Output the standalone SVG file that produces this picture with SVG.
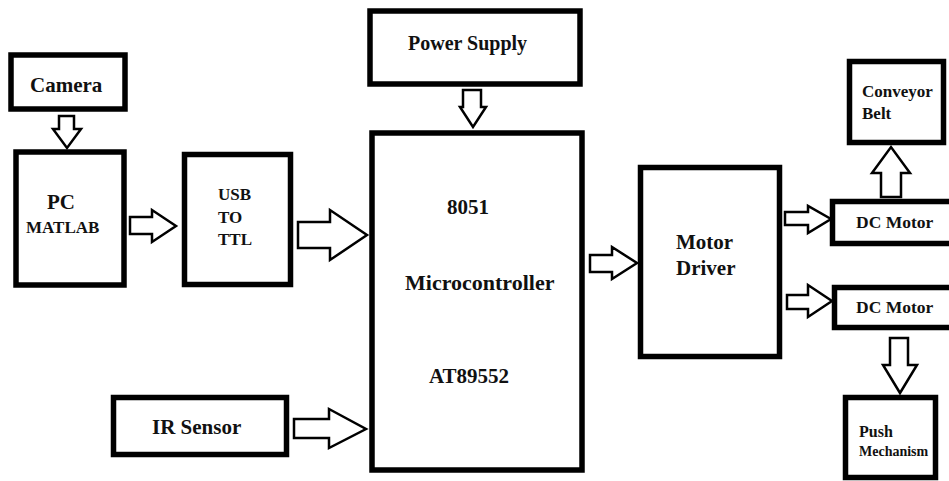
<svg xmlns="http://www.w3.org/2000/svg" width="949" height="481" viewBox="0 0 949 481">
<style>
.box{fill:#fff;stroke:#000;stroke-width:5.5}
.arr{fill:#fff;stroke:#000;stroke-width:2.5;stroke-linejoin:miter}
.t{font-family:'Liberation Serif','DejaVu Serif',serif;font-weight:bold;fill:#111}
</style>
<rect width="949" height="481" fill="#fff"/>
<g id="camera"><rect class="box" x="11" y="55" width="114" height="54"/><text class="t" x="30" y="92" font-size="21">Camera</text></g>
<g id="pc"><rect class="box" x="16" y="152" width="108" height="133"/><text class="t" x="47" y="209" font-size="21">PC</text><text class="t" x="26" y="233" font-size="17">MATLAB</text></g>
<g id="usb"><rect class="box" x="184.5" y="154.5" width="106" height="130"/><text class="t" x="218" y="200" font-size="17">USB</text><text class="t" x="218" y="223" font-size="17">TO</text><text class="t" x="218" y="245" font-size="17">TTL</text></g>
<g id="power"><rect class="box" x="370" y="11" width="210" height="73"/><text class="t" x="408" y="50" font-size="20">Power Supply</text></g>
<g id="mcu"><rect class="box" x="372" y="133" width="210" height="337"/><text class="t" x="447" y="214" font-size="21">8051</text><text class="t" x="405" y="290" font-size="22">Microcontroller</text><text class="t" x="429" y="383" font-size="21">AT89552</text></g>
<g id="ir"><rect class="box" x="113.5" y="397.5" width="173" height="57"/><text class="t" x="152" y="434" font-size="21">IR Sensor</text></g>
<g id="driver"><rect class="box" x="640.5" y="167.5" width="139" height="189"/><text class="t" x="676" y="249" font-size="21">Motor</text><text class="t" x="676" y="275" font-size="21">Driver</text></g>
<g id="conveyor"><rect class="box" x="849.5" y="61.5" width="94" height="81"/><text class="t" x="862" y="97" font-size="17">Conveyor</text><text class="t" x="862" y="119" font-size="17">Belt</text></g>
<g id="dc1"><rect class="box" x="832.5" y="201.5" width="130" height="42"/><text class="t" x="856" y="228" font-size="17.5">DC Motor</text></g>
<g id="dc2"><rect class="box" x="834.5" y="287.5" width="130" height="40"/><text class="t" x="856" y="313" font-size="17.5">DC Motor</text></g>
<g id="push"><rect class="box" x="845.5" y="397.5" width="90" height="80"/><text class="t" x="859" y="437" font-size="16">Push</text><text class="t" x="859" y="456" font-size="14">Mechanism</text></g>
<g id="connectors">
<polygon class="arr" points="59,116 74,116 74,129 81,129 67,148 53,129 59,129"/>
<polygon class="arr" points="130,217 152,217 152,210 176,226 152,242 152,234 130,234"/>
<polygon class="arr" points="298,222 330,222 330,210 367,235 330,260 330,248 298,248"/>
<polygon class="arr" points="463,90 481,90 481,107 486,107 473,127 460,107 463,107"/>
<polygon class="arr" points="294,419 329,419 329,409 366,429 329,448 329,438 294,438"/>
<polygon class="arr" points="590,255 612,255 612,247 637,263 612,279 612,272 590,272"/>
<polygon class="arr" points="785,212 808,212 808,206 831,219 808,233 808,225 785,225"/>
<polygon class="arr" points="787,295 808,295 808,285 832,301 808,317 808,309 787,309"/>
<polygon class="arr" points="881,197 901,197 901,173 910,173 891,147 872,173 881,173"/>
<polygon class="arr" points="890,338 908,338 908,365 917,365 900,393 883,365 890,365"/>
</g>
</svg>
